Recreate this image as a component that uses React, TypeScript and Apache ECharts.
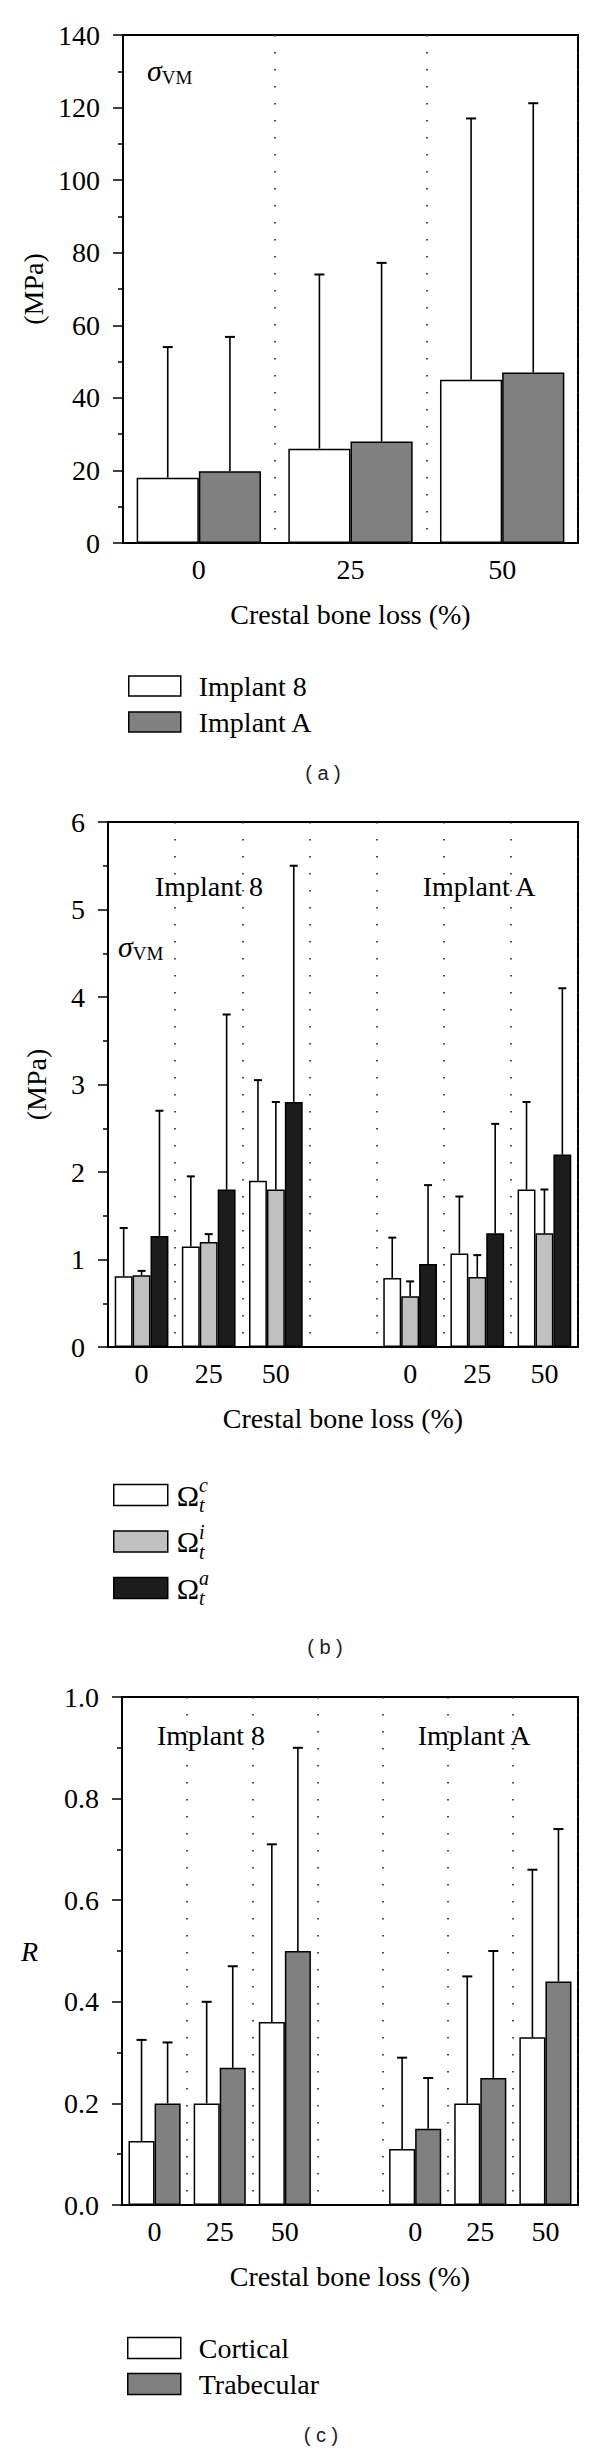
import React, { useEffect, useRef } from 'react';
import * as echarts from 'echarts';

const SERIF = 'Liberation Serif';
const SANS = 'Liberation Sans';

// ---------- Panel (a): von Mises stress in the implant (MPa) ----------
const lossCatsA = ['0', '25', '50'];
const implant8Mean = [18, 26, 45];
const implant8Upper = [54, 74, 117];
const implantAMean = [19.8, 28, 47];
const implantAUpper = [56.8, 77.2, 121.2];

// ---------- Panel (b): von Mises stress in bone regions (MPa) ----------
const lossCatsB = ['0', '25', '50', '', '0', '25', '50'];
const imp8OmegaC = [0.81, 1.15, 1.9];
const imp8OmegaCUpper = [1.36, 1.95, 3.05];
const imp8OmegaI = [0.82, 1.2, 1.8];
const imp8OmegaIUpper = [0.87, 1.29, 2.8];
const imp8OmegaA = [1.27, 1.8, 2.8];
const imp8OmegaAUpper = [2.7, 3.8, 5.5];
const impAOmegaC = [0.79, 1.07, 1.8];
const impAOmegaCUpper = [1.25, 1.72, 2.8];
const impAOmegaI = [0.58, 0.8, 1.3];
const impAOmegaIUpper = [0.75, 1.05, 1.8];
const impAOmegaA = [0.95, 1.3, 2.2];
const impAOmegaAUpper = [1.85, 2.55, 4.1];

// ---------- Panel (c): ratio R ----------
const lossCatsC = ['0', '25', '50', '', '0', '25', '50'];
const imp8Cortical = [0.126, 0.2, 0.36];
const imp8CorticalUpper = [0.325, 0.4, 0.71];
const imp8Trabecular = [0.2, 0.27, 0.5];
const imp8TrabecularUpper = [0.32, 0.47, 0.9];
const impACortical = [0.11, 0.2, 0.33];
const impACorticalUpper = [0.29, 0.45, 0.66];
const impATrabecular = [0.15, 0.25, 0.44];
const impATrabecularUpper = [0.25, 0.5, 0.74];

const legendA = ['Implant 8', 'Implant A'];
const legendB = ['Ωc', 'Ωi', 'Ωa'];
const legendC = ['Cortical', 'Trabecular'];

const join = (a: number[], b: number[]): (number | string)[] => [...a, '-', ...b];

const errPoints = (means: (number | string)[], uppers: (number | string)[]) =>
  means
    .map((m, i) => (m === '-' ? null : [i, m as number, uppers[i] as number]))
    .filter((d) => d !== null);

function errSeries(axis: number, slot: number, nBars: number, gapFrac: number, cap: number, data: any[]) {
  return {
    type: 'custom',
    coordinateSystem: 'cartesian2d',
    xAxisIndex: axis,
    yAxisIndex: axis,
    silent: true,
    z: 5,
    encode: { x: 0, y: [1, 2] },
    data,
    renderItem: (params: any, api: any) => {
      const ci = api.value(0);
      const m = api.value(1);
      const u = api.value(2);
      const base = api.coord([ci, m]);
      const top = api.coord([ci, u]);
      const band = api.size([1, 0])[0];
      const used = band * (1 - gapFrac);
      const bw = used / nBars;
      const x = base[0] - used / 2 + bw * (slot + 0.5);
      return {
        type: 'group',
        children: [
          { type: 'line', shape: { x1: x, y1: base[1], x2: x, y2: top[1] }, style: { stroke: '#000', lineWidth: 1.6 } },
          { type: 'line', shape: { x1: x - cap / 2, y1: top[1], x2: x + cap / 2, y2: top[1] }, style: { stroke: '#000', lineWidth: 2 } },
        ],
      };
    },
  };
}

const barStyle = (color: string) => ({ color, borderColor: '#000', borderWidth: 1.5 });

function yAxisCfg(grid: number, min: number, max: number, interval: number, name: string, nameGap: number, extra: any = {}) {
  return {
    gridIndex: grid,
    type: 'value',
    min,
    max,
    interval,
    name,
    nameLocation: 'middle',
    nameGap,
    nameTextStyle: { fontFamily: SERIF, fontSize: 28, color: '#000' },
    axisLine: { show: true, lineStyle: { color: '#000', width: 2 } },
    axisTick: { show: true, inside: false, length: 10, lineStyle: { color: '#000', width: 1.5 } },
    minorTick: { show: true, splitNumber: 2, length: 5, lineStyle: { color: '#000', width: 1.5 } },
    splitLine: { show: false },
    axisLabel: { fontFamily: SERIF, fontSize: 28, color: '#000', margin: 23 },
    ...extra,
  };
}

function xAxisCfg(grid: number, cats: string[]) {
  return {
    gridIndex: grid,
    type: 'category',
    data: cats,
    boundaryGap: true,
    name: 'Crestal bone loss (%)',
    nameLocation: 'middle',
    nameGap: 57,
    nameTextStyle: { fontFamily: SERIF, fontSize: 28, color: '#000' },
    axisLine: { show: true, lineStyle: { color: '#000', width: 2 } },
    axisTick: { show: false },
    axisLabel: { fontFamily: SERIF, fontSize: 28, color: '#000', margin: 12, interval: 0 },
    splitLine: { show: true, interval: 0, lineStyle: { color: '#222', width: 1.6, type: [1.6, 15.4] } },
  };
}

const gridStyle = { show: true, borderColor: '#000', borderWidth: 2, backgroundColor: 'transparent' };

function legendCfg(names: string[], left: number, top: number, w: number, h: number, gap: number, textPad: number, lineHeight: number, extra: any = {}, extraText: any = {}) {
  return {
    data: names,
    orient: 'vertical',
    left,
    top,
    itemWidth: w,
    itemHeight: h,
    itemGap: gap,
    icon: 'rect',
    selectedMode: false,
    itemStyle: { borderColor: '#000', borderWidth: 1.5 },
    textStyle: {
      fontFamily: SERIF,
      fontSize: 28,
      color: '#000',
      lineHeight,
      padding: [0, 0, 0, textPad],
      ...extraText,
    },
    ...extra,
  };
}

function textEl(text: string, x: number, y: number, font: string, fill = '#000', align = 'center', rich?: any) {
  return {
    type: 'text',
    x,
    y,
    silent: true,
    style: {
      text,
      font,
      fill,
      align,
      verticalAlign: 'middle',
      textAlign: align,
      textVerticalAlign: 'middle',
      ...(rich ? { rich } : {}),
    },
  };
}

const sigmaRich = {
  s: { fontFamily: SERIF, fontStyle: 'italic', fontSize: 30, lineHeight: 34, verticalAlign: 'middle', fill: '#000', color: '#000' },
  v: { fontFamily: SERIF, fontSize: 19, verticalAlign: 'bottom', fill: '#000', color: '#000' },
};

export default function App() {
  const ref = useRef<HTMLDivElement>(null);

  useEffect(() => {
    document.body.style.margin = '0';
    if (!ref.current) return;
    const chart = echarts.init(ref.current, undefined, { renderer: 'svg' });

    const bC = join(imp8OmegaC, impAOmegaC);
    const bCU = join(imp8OmegaCUpper, impAOmegaCUpper);
    const bI = join(imp8OmegaI, impAOmegaI);
    const bIU = join(imp8OmegaIUpper, impAOmegaIUpper);
    const bA = join(imp8OmegaA, impAOmegaA);
    const bAU = join(imp8OmegaAUpper, impAOmegaAUpper);
    const cC = join(imp8Cortical, impACortical);
    const cCU = join(imp8CorticalUpper, impACorticalUpper);
    const cT = join(imp8Trabecular, impATrabecular);
    const cTU = join(imp8TrabecularUpper, impATrabecularUpper);

    const option: any = {
      animation: false,
      backgroundColor: '#fff',
      grid: [
        { left: 123, top: 35, width: 455, height: 508, ...gridStyle },
        { left: 108, top: 822, width: 470, height: 525, ...gridStyle },
        { left: 122, top: 1697, width: 456, height: 508, ...gridStyle },
      ],
      xAxis: [xAxisCfg(0, lossCatsA), xAxisCfg(1, lossCatsB), xAxisCfg(2, lossCatsC)],
      yAxis: [
        yAxisCfg(0, 0, 140, 20, '(MPa)', 73),
        yAxisCfg(1, 0, 6, 1, '(MPa)', 58),
        yAxisCfg(2, 0, 1, 0.2, 'R', 84, {
          nameRotate: 0,
          nameTextStyle: { fontFamily: SERIF, fontSize: 28, fontStyle: 'italic', color: '#000' },
          axisLabel: {
            fontFamily: SERIF,
            fontSize: 28,
            color: '#000',
            margin: 23,
            formatter: (v: number) => v.toFixed(1),
          },
        }),
      ],
      legend: [
        legendCfg(legendA, 123, 666, 52, 20, 6, 13, 30),
        legendCfg(
          legendB,
          108,
          1470,
          54,
          21,
          6.5,
          4,
          40,
          {
            formatter: (name: string) => `{o|Ω}{sup|${name.charAt(1)}}{sub|t}`,
          },
          {
            rich: {
              o: { fontFamily: SERIF, fontSize: 30, lineHeight: 40, verticalAlign: 'middle', color: '#000' },
              sup: { fontFamily: SERIF, fontSize: 20, fontStyle: 'italic', verticalAlign: 'top', width: 0, color: '#000' },
              sub: { fontFamily: SERIF, fontSize: 20, fontStyle: 'italic', verticalAlign: 'bottom', color: '#000' },
            },
          }
        ),
        legendCfg(legendC, 122, 2328, 53, 21, 6, 13, 30),
      ],
      graphic: [
        textEl('{s|σ}{v|VM}', 147, 70, `30px "${SERIF}"`, '#000', 'left', sigmaRich),
        textEl('{s|σ}{v|VM}', 118, 946, `30px "${SERIF}"`, '#000', 'left', sigmaRich),
        textEl('Implant 8', 209, 886, `28px "${SERIF}"`),
        textEl('Implant A', 479, 886, `28px "${SERIF}"`),
        textEl('Implant 8', 211, 1735, `28px "${SERIF}"`),
        textEl('Implant A', 474, 1735, `28px "${SERIF}"`),
        textEl('( a )', 323, 773, `20px "${SANS}"`, '#222'),
        textEl('( b )', 325, 1647, `20px "${SANS}"`, '#222'),
        textEl('( c )', 321, 2435, `20px "${SANS}"`, '#222'),
      ],
      series: [
        // panel a
        { type: 'bar', name: legendA[0], xAxisIndex: 0, yAxisIndex: 0, data: implant8Mean, itemStyle: barStyle('#ffffff'), barGap: '0%', barCategoryGap: '18%' },
        { type: 'bar', name: legendA[1], xAxisIndex: 0, yAxisIndex: 0, data: implantAMean, itemStyle: barStyle('#808080'), barGap: '0%', barCategoryGap: '18%' },
        errSeries(0, 0, 2, 0.18, 10, errPoints(implant8Mean, implant8Upper)),
        errSeries(0, 1, 2, 0.18, 10, errPoints(implantAMean, implantAUpper)),
        // panel b
        { type: 'bar', name: legendB[0], xAxisIndex: 1, yAxisIndex: 1, data: bC, itemStyle: barStyle('#ffffff'), barGap: '0%', barCategoryGap: '20%' },
        { type: 'bar', name: legendB[1], xAxisIndex: 1, yAxisIndex: 1, data: bI, itemStyle: barStyle('#c0c0c0'), barGap: '0%', barCategoryGap: '20%' },
        { type: 'bar', name: legendB[2], xAxisIndex: 1, yAxisIndex: 1, data: bA, itemStyle: barStyle('#1c1c1c'), barGap: '0%', barCategoryGap: '20%' },
        errSeries(1, 0, 3, 0.2, 8, errPoints(bC, bCU)),
        errSeries(1, 1, 3, 0.2, 8, errPoints(bI, bIU)),
        errSeries(1, 2, 3, 0.2, 8, errPoints(bA, bAU)),
        // panel c
        { type: 'bar', name: legendC[0], xAxisIndex: 2, yAxisIndex: 2, data: cC, itemStyle: barStyle('#ffffff'), barGap: '0%', barCategoryGap: '20%' },
        { type: 'bar', name: legendC[1], xAxisIndex: 2, yAxisIndex: 2, data: cT, itemStyle: barStyle('#808080'), barGap: '0%', barCategoryGap: '20%' },
        errSeries(2, 0, 2, 0.2, 10, errPoints(cC, cCU)),
        errSeries(2, 1, 2, 0.2, 10, errPoints(cT, cTU)),
      ],
    };

    chart.setOption(option);
    return () => chart.dispose();
  }, []);

  return <div ref={ref} style={{ width: 600, height: 2450 }} />;
}
